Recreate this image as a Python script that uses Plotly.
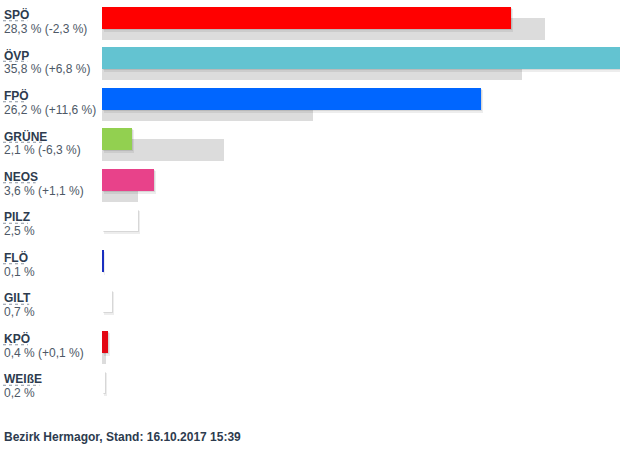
import plotly.graph_objects as go

parties = ["SPÖ", "ÖVP", "FPÖ", "GRÜNE", "NEOS", "PILZ", "FLÖ", "GILT", "KPÖ", "WEIßE"]
current = [28.3, 35.8, 26.2, 2.1, 3.6, 2.5, 0.1, 0.7, 0.4, 0.2]
change = [-2.3, 6.8, 11.6, -6.3, 1.1, None, None, None, 0.1, None]
colors = ["#ff0000", "#63c3d1", "#0066ff", "#92d050", "#e8428a",
          "#ffffff", "#1a2fc0", "#ffffff", "#e30613", "#ffffff"]
footer = "Bezirk Hermagor, Stand: 16.10.2017 15:39"

previous = [round(c - d, 1) if d is not None else None for c, d in zip(current, change)]

def fmt(v, sign=False):
    s = f"{v:+.1f}" if sign else f"{v:.1f}"
    return s.replace(".", ",") + " %"

labels = []
for c, d in zip(current, change):
    t = fmt(c)
    if d is not None:
        t += " (" + fmt(d, True) + ")"
    labels.append(t)

rows = list(range(len(parties)))
ROW_PX = 40.5
PLOT_L = 102
PLOT_W = 518
TEXT_X = 1.5

fig = go.Figure()

# previous result (grey, behind)
fig.add_trace(go.Bar(
    y=rows, x=previous, orientation="h",
    marker=dict(color="#dcdcdc", line=dict(width=0)),
    width=0.543, offset=-0.136, hoverinfo="skip", showlegend=False))

# soft shadow (two layers)
fig.add_trace(go.Bar(
    y=rows, x=current, base=[0.12] * len(current), orientation="h",
    marker=dict(color="rgba(0,0,0,0.07)", line=dict(width=0)),
    width=0.543 + 1 / ROW_PX, offset=-0.407 + 2 / ROW_PX, hoverinfo="skip", showlegend=False))
fig.add_trace(go.Bar(
    y=rows, x=current, base=[0.06] * len(current), orientation="h",
    marker=dict(color="rgba(0,0,0,0.09)", line=dict(width=0)),
    width=0.543, offset=-0.407 + 1 / ROW_PX, hoverinfo="skip", showlegend=False))

# current result
fig.add_trace(go.Bar(
    y=rows, x=current, orientation="h",
    marker=dict(color=colors, line=dict(width=0)),
    width=0.543, offset=-0.407, showlegend=False,
    customdata=parties, hovertemplate="%{customdata}: %{x} %<extra></extra>"))

# approximate Arial bold widths for dotted underline
cw = {"S": 667, "P": 667, "Ö": 778, "V": 667, "F": 611, "G": 778, "R": 722,
      "Ü": 722, "N": 722, "E": 667, "O": 778, "I": 278, "L": 611, "Z": 611,
      "T": 611, "K": 722, "W": 944, "ß": 611}

annotations = []
shapes = []
for i, (p, lab) in enumerate(zip(parties, labels)):
    annotations.append(dict(
        xref="paper", yref="y", x=(TEXT_X - PLOT_L) / PLOT_W, y=i - 8.5 / ROW_PX,
        xanchor="left", yanchor="middle", showarrow=False,
        text="<b>" + p + "</b>",
        font=dict(family="Liberation Sans, Arial", size=12, color="#2d3b4e")))
    annotations.append(dict(
        xref="paper", yref="y", x=(TEXT_X - PLOT_L) / PLOT_W, y=i + 5.5 / ROW_PX,
        xanchor="left", yanchor="middle", showarrow=False,
        text=lab,
        font=dict(family="Liberation Sans, Arial", size=12, color="#4d5866")))
    w = sum(cw.get(ch, 667) for ch in p) * 11.5 / 1000
    shapes.append(dict(
        type="line", xref="paper", yref="y",
        x0=(3 - PLOT_L) / PLOT_W, x1=(3 + w - PLOT_L) / PLOT_W,
        y0=i - 2.5 / ROW_PX, y1=i - 2.5 / ROW_PX,
        line=dict(color="#8a94a0", width=1, dash="dot")))

annotations.append(dict(
    xref="paper", yref="paper", x=(TEXT_X - PLOT_L) / PLOT_W, y=(408 - 437) / 405,
    xanchor="left", yanchor="middle", showarrow=False,
    text="<b>" + footer + "</b>",
    font=dict(family="Liberation Sans, Arial", size=12, color="#2d3b4e")))

fig.update_layout(
    width=620, height=451,
    margin=dict(l=PLOT_L, r=0, t=3, b=43),
    paper_bgcolor="white", plot_bgcolor="white",
    barmode="overlay", bargap=0,
    xaxis=dict(range=[0, 35.8], visible=False, fixedrange=True),
    yaxis=dict(range=[len(parties) - 0.5, -0.5], visible=False, fixedrange=True),
    annotations=annotations, shapes=shapes,
)

fig.write_html("out.html", config={"displayModeBar": False},
               post_script="document.body.style.margin='0';")
